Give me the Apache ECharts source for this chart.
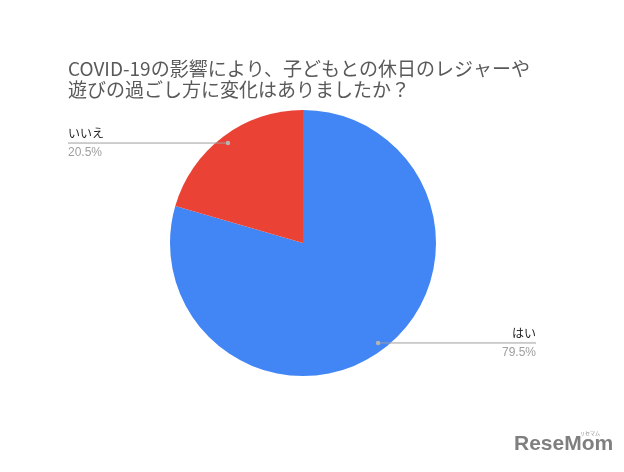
<!DOCTYPE html>
<html><head><meta charset="utf-8">
<script src="https://cdn.jsdelivr.net/npm/echarts@6/dist/echarts.min.js"></script>
<style>html,body{margin:0;padding:0;background:#fff}#c{width:624px;height:472px}</style>
</head><body><div id="c"></div>
<script>
var titleText = 'COVID-19の影響により、子どもとの休日のレジャーや\n遊びの過ごし方に変化はありましたか？';
var categories = ['はい', 'いいえ'];
var values = [79.5, 20.5];
var colors = ['#4285f4', '#ea4335'];

var cx = 303, cy = 243, R = 133, rDot = 125;
var total = values.reduce(function(a,b){return a+b;},0);
function midAngle(i){
  var acc = 0; for (var k=0;k<i;k++) acc += values[k];
  var mid = acc + values[i]/2;
  return (90 - mid/total*360) * Math.PI/180;
}
function dotPt(i){ var a = midAngle(i); return [cx + rDot*Math.cos(a), cy - rDot*Math.sin(a)]; }
var labelEnds = [536, 68];

var chart = echarts.init(document.getElementById('c'), null, {renderer:'canvas'});
var marks = [];
categories.forEach(function(_, i){
  var p = dotPt(i);
  marks.push({type:'line', shape:{x1:p[0], y1:p[1], x2:labelEnds[i], y2:p[1]}, style:{stroke:'#9e9e9e', lineWidth:1}, z:100});
  marks.push({type:'circle', shape:{cx:p[0], cy:p[1], r:2.2}, style:{fill:'#b5b5b5'}, z:101});
});
chart.setOption({
  animation:false,
  title:{text:titleText, left:63, top:53, textStyle:{fontSize:19, fontWeight:'normal', color:'#595959', lineHeight:21, fontFamily:'Noto Sans CJK JP'}},
  graphic: marks.concat([
    {type:'text', left:514, top:434, style:{text:'ReseMom', font:'bold 21px "Liberation Sans Narrow", "Liberation Sans"', fill:'#7f7f7f'}},
    {type:'text', left:580, top:431, style:{text:'リセマム', font:'5px "Noto Sans CJK JP"', fill:'#8c8c8c'}}
  ]),
  series:[{
    type:'pie', center:[cx, cy], radius:R, startAngle:90, clockwise:true,
    data: categories.map(function(c,i){ return {name:c, value:values[i], itemStyle:{color:colors[i]}}; }),
    label:{show:true, formatter:'{n|{b}}\n{p|{d}%}', rich:{
      n:{fontSize:12, color:'#222', lineHeight:20, fontFamily:'Noto Sans CJK JP'},
      p:{fontSize:12, color:'#9e9e9e', lineHeight:20, fontFamily:'Liberation Sans'}}},
    labelLine:{show:false},
    labelLayout:function(params){
      var i = params.dataIndex; var p = dotPt(i); var x = labelEnds[i];
      return {x:x, y:p[1], align: i===0?'right':'left', verticalAlign:'middle'};
    }
  }]
});
</script></body></html>
